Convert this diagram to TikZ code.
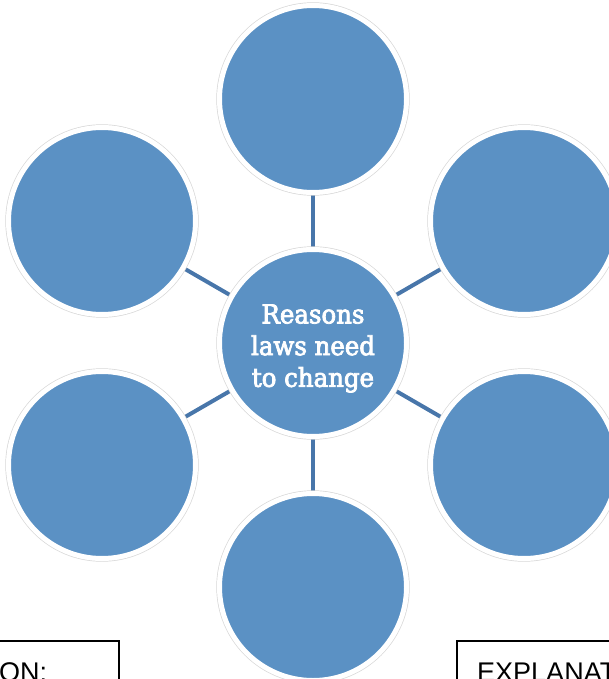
\documentclass[tikz,border=0pt]{standalone}
\usepackage{fontspec}
\setmainfont{DejaVu Serif}
\newfontfamily\centerfont[FakeStretch=0.94, FakeBold=3]{DejaVu Serif}
\newfontfamily\boxfont{Liberation Sans}
\usetikzlibrary{backgrounds}
\definecolor{bubble}{RGB}{91,145,196}
\definecolor{spoke}{RGB}{72,118,170}
\definecolor{ringline}{RGB}{215,215,215}
\tikzset{
  bubblenode/.style={circle, minimum size=187pt, inner sep=0pt, outer sep=2.5pt,
    fill=bubble, draw=white, line width=5pt,
    preaction={draw=ringline, line width=6.4pt}},
  spokeline/.style={draw=spoke, line width=4pt},
  answerbox/.style={draw=black, line width=1.3pt},
  boxtext/.style={font=\boxfont\fontsize{27}{32}\selectfont, inner sep=0pt, anchor=base west, text=black}
}
\begin{document}
\begin{tikzpicture}[x=1pt, y=-1pt]
\useasboundingbox (0,0) rectangle (609,679);
\node[bubblenode] (c) at (313,343) {};
\node[bubblenode] (t) at (313,99) {};
\node[bubblenode] (tl) at (102,221) {};
\node[bubblenode] (tr) at (524,221) {};
\node[bubblenode] (bl) at (102,465) {};
\node[bubblenode] (br) at (524,465) {};
\node[bubblenode] (b) at (313,587) {};
\node[text=white, align=center, font=\centerfont\fontsize{26}{31.7}\selectfont, inner sep=0pt] (ctext) at (313,348.5)
  {Reasons\\laws need\\to change};
\begin{scope}[on background layer]
\draw[spokeline] (c) -- (t);
\draw[spokeline] (c) -- (tl);
\draw[spokeline] (c) -- (tr);
\draw[spokeline] (c) -- (bl);
\draw[spokeline] (c) -- (br);
\draw[spokeline] (c) -- (b);
\end{scope}
\draw[answerbox] (-10,700) -- (-10,641) -- (119,641) -- (119,700);
\draw[answerbox] (620,641) -- (457,641) -- (457,700);
\node[boxtext] (lefttext) at (-1,681.5) {ON:};
\node[boxtext] (righttext) at (477,681.5) {EXPLANAT};
\end{tikzpicture}
\end{document}
